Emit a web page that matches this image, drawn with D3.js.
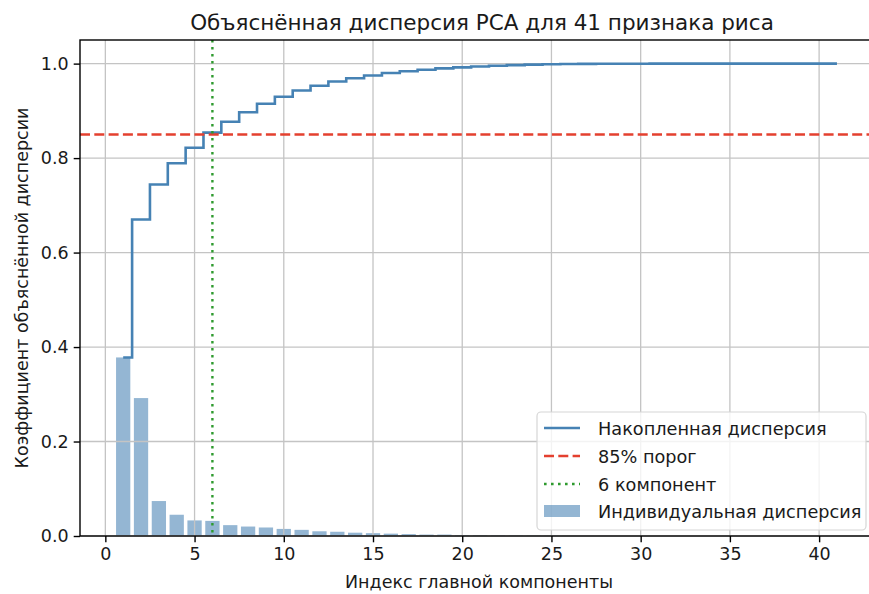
<!DOCTYPE html>
<html><head><meta charset="utf-8">
<script src="https://cdn.jsdelivr.net/npm/d3@7"></script>
<style>body{margin:0;background:#fff}svg{display:block;font-family:"DejaVu Sans",sans-serif}</style>
</head><body>
<svg id="c" width="869" height="594"></svg>
<script>
// Data
const components = d3.range(1, 42);
const individualVariance = [0.378,0.292,0.074,0.045,0.033,0.032,0.023,0.020,0.018,0.015,
 0.013,0.010,0.009,0.007,0.006,0.005,0.004,0.003,0.003,0.002,
 0.002,0.0015,0.0013,0.0010,0.0008,0.0005,0.0003,0.0003,0.0001,0.00005,
 0.00004,0.00003,0.00002,0.00002,0.00001,0.00001,0.00001,0.00001,0.0,0.0,0.0];
const threshold = 0.85;
const nComponents = 6;
const xTicks = [0,5,10,15,20,25,30,35,40];
const yTicks = [0,0.2,0.4,0.6,0.8,1.0];
const titleText = "Объяснённая дисперсия PCA для 41 признака риса";
const xLabel = "Индекс главной компоненты";
const yLabel = "Коэффициент объяснённой дисперсии";
const legendLabels = ["Накопленная дисперсия","85% порог","6 компонент","Индивидуальная дисперсия"];

let acc = 0;
const cumulative = individualVariance.map(v => (acc += v));
const cumScale = 1 / acc;
const cumData = components.map((c,i) => ({c, v: Math.min(1, cumulative[i]*cumScale)}));

const svg = d3.select("#c");
const L = 80, R = 873, T = 40, B = 536;
const x = d3.scaleLinear().domain([-1.42, 43.02]).range([L, R]);
const y = d3.scaleLinear().domain([0, 1.05]).range([B, T]);

const steel = "#4682b4";
const gridColor = "#c4c4c4";
const textColor = "#1a1a1a";

// bars
svg.append("g").selectAll("rect").data(components).join("rect")
  .attr("x", d => x(d - 0.4)).attr("width", x(0.8) - x(0))
  .attr("y", (d,i) => y(individualVariance[i]))
  .attr("height", (d,i) => y(0) - y(individualVariance[i]))
  .attr("fill", steel).attr("fill-opacity", 0.58);

// grid
const grid = svg.append("g").attr("stroke", gridColor).attr("stroke-width", 1.3);
grid.selectAll(".gx").data(xTicks).join("line")
  .attr("x1", d => x(d)).attr("x2", d => x(d)).attr("y1", T).attr("y2", B);
grid.selectAll(".gy").data(yTicks).join("line")
  .attr("x1", L).attr("x2", R).attr("y1", d => y(d)).attr("y2", d => y(d));

// cumulative step line
const line = d3.line().x(d => x(d.c)).y(d => y(d.v)).curve(d3.curveStep);
svg.append("path").datum(cumData).attr("d", line)
  .attr("fill", "none").attr("stroke", steel).attr("stroke-width", 2.6);

// threshold
svg.append("line").attr("x1", L).attr("x2", R).attr("y1", y(threshold)).attr("y2", y(threshold))
  .attr("stroke", "#e4402f").attr("stroke-width", 2.4).attr("stroke-dasharray", "10,4.3");
// component marker
svg.append("line").attr("x1", x(nComponents)).attr("x2", x(nComponents)).attr("y1", T).attr("y2", B)
  .attr("stroke", "#2e9a2e").attr("stroke-width", 2.4).attr("stroke-dasharray", "2.6,4.4");

// axes
const xAxis = svg.append("g").attr("transform", `translate(0,${B})`)
  .call(d3.axisBottom(x).tickValues(xTicks).tickFormat(d3.format("d")).tickSize(6.3).tickPadding(5));
const yAxis = svg.append("g").attr("transform", `translate(${L},0)`)
  .call(d3.axisLeft(y).tickValues(yTicks).tickFormat(d3.format(".1f")).tickSize(6.3).tickPadding(5));
[xAxis, yAxis].forEach(a => {
  a.select(".domain").remove();
  a.selectAll("line").attr("stroke", "#000").attr("stroke-width", 1.4);
  a.selectAll("text").attr("font-family", "DejaVu Sans").attr("font-size", 17.5).attr("fill", textColor);
});
// spines
const sp = svg.append("g").attr("stroke", "#000").attr("stroke-width", 1.4).attr("fill", "none");
sp.append("rect").attr("x", L).attr("y", T).attr("width", R - L).attr("height", B - T);

// title & labels
svg.append("text").attr("x", 482).attr("y", 30).attr("text-anchor", "middle")
  .attr("font-size", 21.5).attr("fill", textColor).text(titleText);
svg.append("text").attr("x", 479).attr("y", 588).attr("text-anchor", "middle")
  .attr("font-size", 17.5).attr("fill", textColor).text(xLabel);
svg.append("text").attr("transform", `translate(28,${(T + B) / 2}) rotate(-90)`).attr("text-anchor", "middle")
  .attr("font-size", 17.5).attr("fill", textColor).text(yLabel);

// legend
const lg = svg.append("g");
lg.append("rect").attr("x", 537).attr("y", 412).attr("width", 329).attr("height", 118).attr("rx", 4)
  .attr("fill", "#fff").attr("fill-opacity", 0.8).attr("stroke", "#d6d6d6").attr("stroke-width", 1.2);
const ly = [428, 456, 484, 511];
const hx0 = 544, hx1 = 580;
lg.append("line").attr("x1", hx0).attr("x2", hx1).attr("y1", ly[0]).attr("y2", ly[0])
  .attr("stroke", steel).attr("stroke-width", 2.6);
lg.append("line").attr("x1", hx0).attr("x2", hx1).attr("y1", ly[1]).attr("y2", ly[1])
  .attr("stroke", "#e4402f").attr("stroke-width", 2.4).attr("stroke-dasharray", "10,4.3");
lg.append("line").attr("x1", hx0).attr("x2", hx1).attr("y1", ly[2]).attr("y2", ly[2])
  .attr("stroke", "#2e9a2e").attr("stroke-width", 2.4).attr("stroke-dasharray", "2.6,4.4");
lg.append("rect").attr("x", hx0).attr("y", ly[3] - 6).attr("width", hx1 - hx0).attr("height", 12)
  .attr("fill", steel).attr("fill-opacity", 0.58);
lg.selectAll("text.l").data(legendLabels).join("text").attr("class", "l")
  .attr("x", 598).attr("y", (d,i) => ly[i] + 6.5).attr("font-size", 17.7).attr("fill", textColor).text(d => d);
</script>
</body></html>
